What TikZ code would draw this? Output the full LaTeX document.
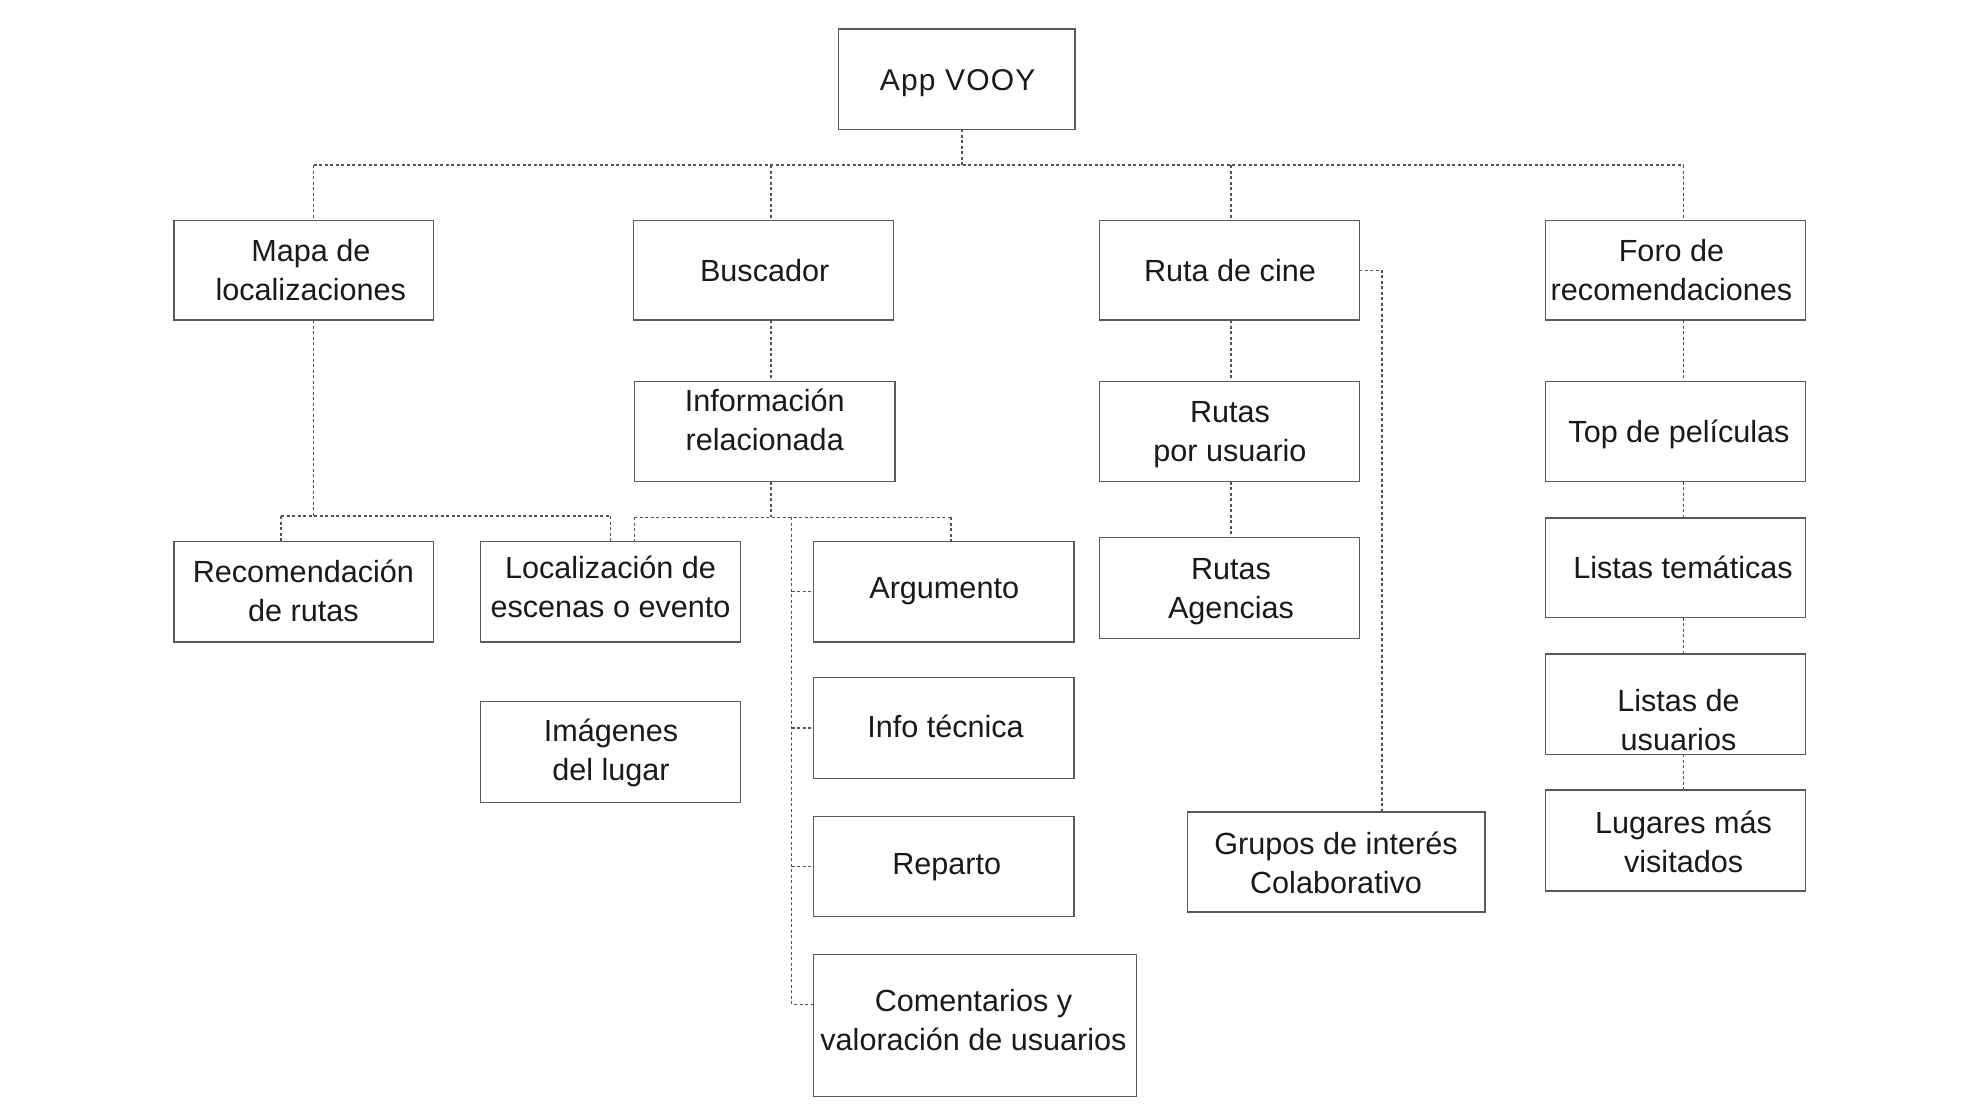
\documentclass[tikz,border=0pt]{standalone}
\usepackage{fontspec}
\setmainfont{Liberation Sans}
\definecolor{boxc}{HTML}{5A5A5A}
\definecolor{linec}{HTML}{555555}
\definecolor{txtc}{HTML}{1A1A1A}
\newcommand\bx[5]{\node[box, minimum width={#4-#2}, minimum height={#5-#3}] (#1) at ({(#2+#4)/2},{(#3+#5)/2}) {};}
\begin{document}
\begin{tikzpicture}[x=1pt,y=-1pt,
  box/.style={draw=boxc, line width=1.4pt, fill=none, inner sep=0pt, outer sep=0pt},
  txt/.style={text=txtc, align=center, inner sep=0pt, anchor=base, font=\fontsize{30.6}{39}\selectfont},
  conn/.style={draw=linec, line width=1.2pt, dash pattern=on 3pt off 2.5pt}]
\useasboundingbox[fill=white] (0,0) rectangle (1981,1113);
% boxes
\bx{app}{838.7}{29}{1075}{129.3}
\bx{mapa}{174}{220.5}{433.5}{320}
\bx{busc}{633.3}{220.5}{893.6}{320}
\bx{ruta}{1099.7}{220.5}{1359.3}{320}
\bx{foro}{1545.3}{220.5}{1805.3}{320}
\bx{info}{634.5}{381.3}{895}{481.7}
\bx{rutu}{1099.7}{381.3}{1359.3}{481.7}
\bx{top}{1545.3}{381.3}{1805.3}{481.7}
\bx{reco}{174}{541.3}{433.5}{642}
\bx{loca}{480.4}{541.3}{740.5}{642}
\bx{arg}{813.7}{541.3}{1074}{642}
\bx{ruag}{1099.7}{537.2}{1359.3}{638.3}
\bx{tema}{1545.3}{518}{1805.3}{617.7}
\bx{imag}{480.4}{701.5}{740.5}{802.6}
\bx{tec}{813.7}{677.5}{1074}{778.6}
\bx{lusu}{1545.3}{654}{1805.3}{754.3}
\bx{luga}{1545.3}{790}{1805.3}{891}
\bx{rep}{813.7}{816.5}{1074}{916.4}
\bx{grup}{1187.3}{812}{1485}{912}
\bx{coment}{813.7}{954.3}{1136.7}{1096.7}
% texts (anchor=base is the baseline of the last line)
\node[txt, font=\fontsize{30}{39}\selectfont\addfontfeature{LetterSpace=4}] (t-app) at (957.7,90.7) {App VOOY};
\node[txt] (t-mapa) at (310.8,300.7) {Mapa de\\localizaciones};
\node[txt] (t-busc) at (764.7,281) {Buscador};
\node[txt] (t-ruta) at (1230,281) {Ruta de cine};
\node[txt] (t-foro) at (1671.5,300.7) {Foro de\\recomendaciones};
\node[txt] (t-info) at (764.7,450.7) {Información\\relacionada};
\node[txt] (t-rutu) at (1230,461) {Rutas\\por usuario};
\node[txt] (t-top) at (1679,442.5) {Top de películas};
\node[txt] (t-reco) at (303.4,621.5) {Recomendación\\de rutas};
\node[txt] (t-loca) at (610.5,617) {Localización de\\escenas o evento};
\node[txt] (t-arg) at (944.2,598.5) {Argumento};
\node[txt] (t-ruag) at (1231,618.5) {Rutas\\Agencias};
\node[txt] (t-tema) at (1683,578) {Listas temáticas};
\node[txt] (t-imag) at (611,780) {Imágenes\\del lugar};
\node[txt] (t-tec) at (945.5,737.5) {Info técnica};
\node[txt] (t-lusu) at (1678.5,750.2) {Listas de\\usuarios};
\node[txt] (t-luga) at (1683.6,872.5) {Lugares más\\visitados};
\node[txt] (t-rep) at (946.7,874.5) {Reparto};
\node[txt] (t-grup) at (1336,893) {Grupos de interés\\Colaborativo};
\node[txt] (t-coment) at (973.5,1050) {Comentarios y\\valoración de usuarios};
% junction coordinates
\coordinate (jA) at (962,165);
\coordinate (jL) at (313.5,165);
\coordinate (jB) at (771,165);
\coordinate (jC) at (1231,165);
\coordinate (jR) at (1683.5,165);
\coordinate (mA) at (313.5,516);
\coordinate (mL) at (281,516);
\coordinate (mR) at (610.6,516);
\coordinate (iA) at (771,517.3);
\coordinate (iL) at (634.2,517.3);
\coordinate (iR) at (951,517.3);
\coordinate (iV) at (791.7,517.3);
\coordinate (iV4) at (791.7,1004.3);
\coordinate (rK) at (1382,270.3);
% connectors: level 1
\draw[conn] (app.south -| jA) -- (jA);
\draw[conn] (jL) -- (jR);
\draw[conn] (jL) -- (mapa.north -| jL);
\draw[conn] (jB) -- (busc.north -| jB);
\draw[conn] (jC) -- (ruta.north -| jC);
\draw[conn] (jR) -- (foro.north -| jR);
% mapa
\draw[conn] (mapa.south -| mA) -- (mA);
\draw[conn] (mL) -- (mR);
\draw[conn] (mL) -- (reco.north -| mL);
\draw[conn] (mR) -- (loca.north -| mR);
% buscador
\draw[conn] (busc.south -| jB) -- (info.north -| jB);
\draw[conn] (info.south -| iA) -- (iA);
\draw[conn] (iL) -- (iR);
\draw[conn] (iL) -- (loca.north -| iL);
\draw[conn] (iR) -- (arg.north -| iR);
\draw[conn] (iV) -- (iV4) -- (coment.west |- iV4);
\draw[conn] (arg.west -| iV) -- (arg.west);
\draw[conn] (tec.west -| iV) -- (tec.west);
\draw[conn] (rep.west -| iV) -- (rep.west);
% ruta de cine
\draw[conn] (ruta.south -| jC) -- (rutu.north -| jC);
\draw[conn] (rutu.south -| jC) -- (ruag.north -| jC);
\draw[conn] (ruta.east |- rK) -- (rK) -- (grup.north -| rK);
% foro
\draw[conn] (foro.south -| jR) -- (top.north -| jR);
\draw[conn] (top.south -| jR) -- (tema.north -| jR);
\draw[conn] (tema.south -| jR) -- (lusu.north -| jR);
\draw[conn] (lusu.south -| jR) -- (luga.north -| jR);
\end{tikzpicture}
\end{document}
